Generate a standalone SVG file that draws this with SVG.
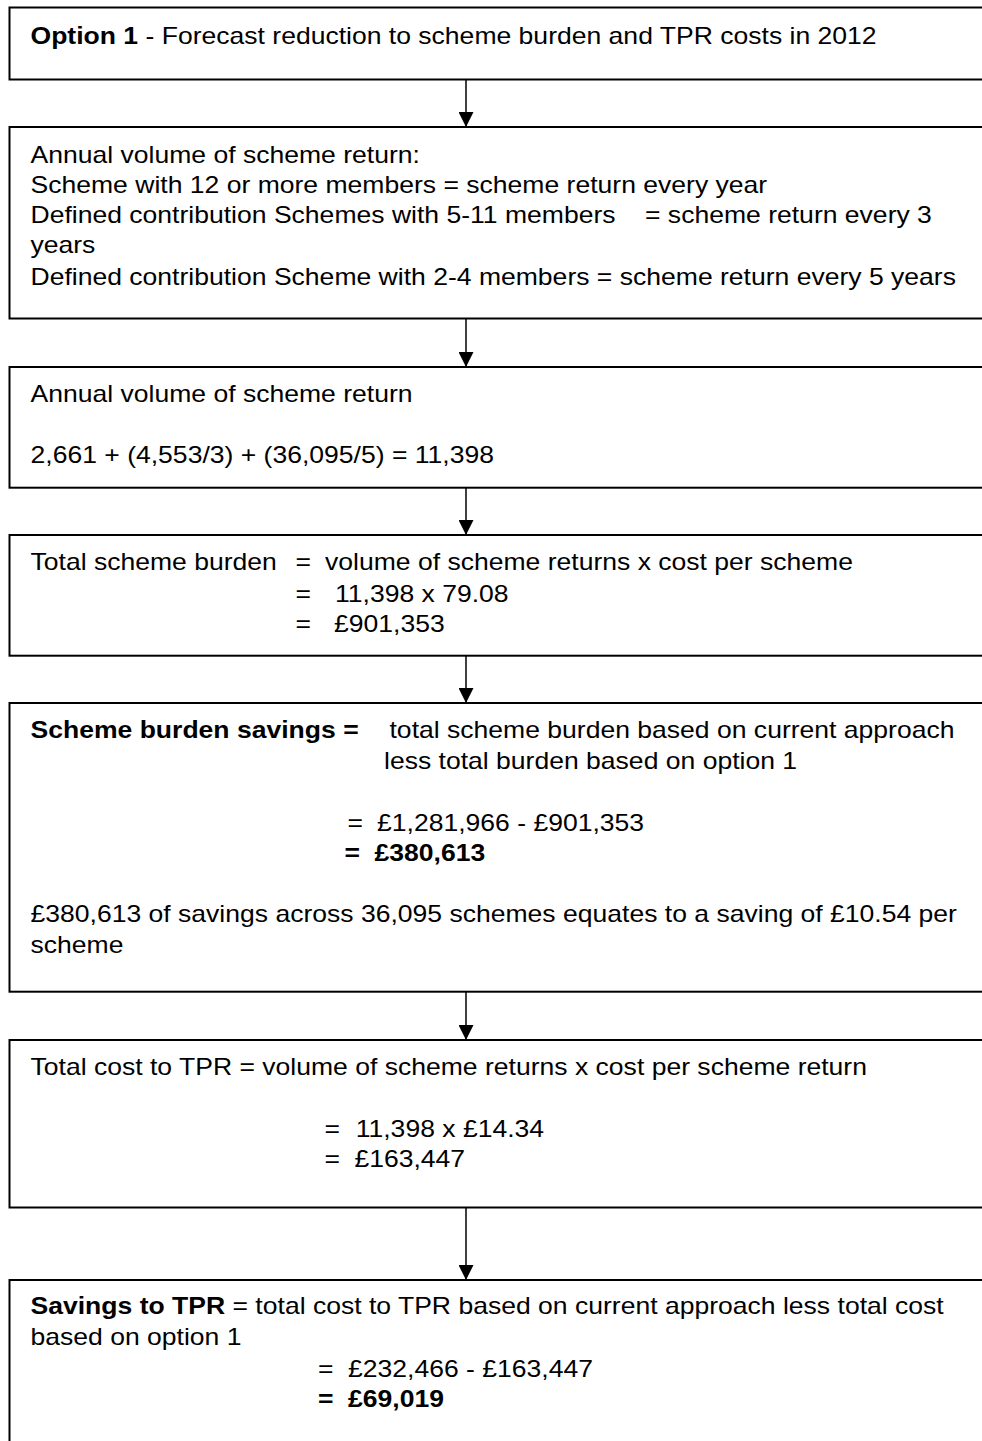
<svg xmlns="http://www.w3.org/2000/svg" width="982" height="1441" viewBox="0 0 982 1441">
<style>
.box{fill:#fff;stroke:#000;stroke-width:2}
.t{font-family:"Liberation Sans",Arial,sans-serif;font-size:23px;fill:#000}
.b{font-weight:bold}
.con{stroke:#000;stroke-width:1.5;fill:none;marker-end:url(#ah)}
</style>
<defs>
<marker id="ah" markerWidth="15" markerHeight="15" refX="15" refY="7.5" orient="auto" markerUnits="userSpaceOnUse" viewBox="0 0 15 15"><path d="M0,0 L15,7.5 L0,15 z" fill="#000"/></marker>
</defs>
<rect width="982" height="1441" fill="#fff"/>
<g id="node1">
<rect class="box" x="9.5" y="7.5" width="990" height="72"/>
<text class="t" transform="matrix(1.154 0 0 1 30.5 43.5)"><tspan class="b">Option 1</tspan> - Forecast reduction to scheme burden and TPR costs in 2012</text>
</g>
<g id="node2">
<rect class="box" x="9.5" y="127" width="990" height="191.5"/>
<text class="t" transform="matrix(1.154 0 0 1 30.5 163)">Annual volume of scheme return:</text>
<text class="t" transform="matrix(1.154 0 0 1 30.5 193)">Scheme with 12 or more members = scheme return every year</text>
<text class="t" transform="matrix(1.154 0 0 1 30.5 223)">Defined contribution Schemes with 5-11 members</text>
<text class="t" transform="matrix(1.154 0 0 1 645 223)">= scheme return every 3</text>
<text class="t" transform="matrix(1.154 0 0 1 30.5 253)">years</text>
<text class="t" transform="matrix(1.154 0 0 1 30.5 284.5)">Defined contribution Scheme with 2-4 members = scheme return every 5 years</text>
</g>
<g id="node3">
<rect class="box" x="9.5" y="367" width="990" height="120.7"/>
<text class="t" transform="matrix(1.154 0 0 1 30.5 402)">Annual volume of scheme return</text>
<text class="t" transform="matrix(1.154 0 0 1 30.5 463)">2,661 + (4,553/3) + (36,095/5) = 11,398</text>
</g>
<g id="node4">
<rect class="box" x="9.5" y="535" width="990" height="120.7"/>
<text class="t" transform="matrix(1.154 0 0 1 30.5 570)">Total scheme burden</text>
<text class="t" transform="matrix(1.154 0 0 1 295.6 570)">=</text>
<text class="t" transform="matrix(1.154 0 0 1 325 570)">volume of scheme returns x cost per scheme</text>
<text class="t" transform="matrix(1.154 0 0 1 295.6 601.5)">=</text>
<text class="t" transform="matrix(1.154 0 0 1 335 601.5)">11,398 x 79.08</text>
<text class="t" transform="matrix(1.154 0 0 1 295.6 631.5)">=</text>
<text class="t" transform="matrix(1.154 0 0 1 334 631.5)">£901,353</text>
</g>
<g id="node5">
<rect class="box" x="9.5" y="703" width="990" height="288.7"/>
<text class="t b" transform="matrix(1.154 0 0 1 30.5 738)">Scheme burden savings =</text>
<text class="t" transform="matrix(1.154 0 0 1 389.5 738)">total scheme burden based on current approach</text>
<text class="t" transform="matrix(1.154 0 0 1 384 769)">less total burden based on option 1</text>
<text class="t" transform="matrix(1.154 0 0 1 347.5 831)">=</text>
<text class="t" transform="matrix(1.154 0 0 1 377 831)">£1,281,966 - £901,353</text>
<text class="t b" transform="matrix(1.154 0 0 1 344.4 861)">=</text>
<text class="t b" transform="matrix(1.154 0 0 1 374.5 861)">£380,613</text>
<text class="t" transform="matrix(1.154 0 0 1 30.5 922)">£380,613 of savings across 36,095 schemes equates to a saving of £10.54 per</text>
<text class="t" transform="matrix(1.154 0 0 1 30.5 953)">scheme</text>
</g>
<g id="node6">
<rect class="box" x="9.5" y="1040" width="990" height="167.5"/>
<text class="t" transform="matrix(1.154 0 0 1 30.5 1075)">Total cost to TPR = volume of scheme returns x cost per scheme return</text>
<text class="t" transform="matrix(1.154 0 0 1 324.4 1137)">=</text>
<text class="t" transform="matrix(1.154 0 0 1 355.7 1137)">11,398 x £14.34</text>
<text class="t" transform="matrix(1.154 0 0 1 324.4 1167)">=</text>
<text class="t" transform="matrix(1.154 0 0 1 354.4 1167)">£163,447</text>
</g>
<g id="node7">
<rect class="box" x="9.5" y="1280" width="990" height="200"/>
<text class="t" transform="matrix(1.154 0 0 1 30.5 1314)"><tspan class="b">Savings to TPR</tspan> = total cost to TPR based on current approach less total cost</text>
<text class="t" transform="matrix(1.154 0 0 1 30.5 1345)">based on option 1</text>
<text class="t" transform="matrix(1.154 0 0 1 318 1377)">=</text>
<text class="t" transform="matrix(1.154 0 0 1 348 1377)">£232,466 - £163,447</text>
<text class="t b" transform="matrix(1.154 0 0 1 318 1407)">=</text>
<text class="t b" transform="matrix(1.154 0 0 1 348 1407)">£69,019</text>
</g>
<g id="connectors">
<line class="con" x1="466" y1="79.5" x2="466" y2="127"/>
<line class="con" x1="466" y1="318.5" x2="466" y2="367"/>
<line class="con" x1="466" y1="487.7" x2="466" y2="535"/>
<line class="con" x1="466" y1="655.7" x2="466" y2="703"/>
<line class="con" x1="466" y1="991.7" x2="466" y2="1040"/>
<line class="con" x1="466" y1="1207.5" x2="466" y2="1280"/>
</g>
</svg>
